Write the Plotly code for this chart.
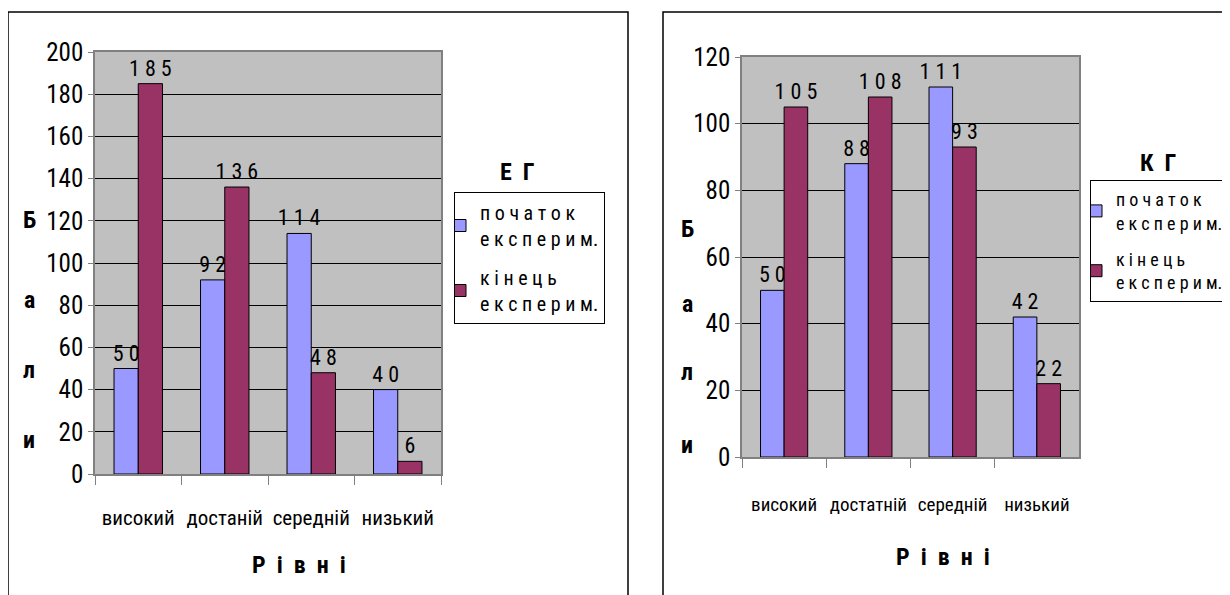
import plotly.graph_objects as go

# ---- data ----
cats_eg = ["високий", "достаній", "середній", "низький"]
cats_kg = ["високий", "достатній", "середній", "низький"]
eg_start = [50, 92, 114, 40]
eg_end = [185, 136, 48, 6]
kg_start = [50, 88, 111, 42]
kg_end = [105, 108, 93, 22]
name_start = "п о ч а т о к<br>е к с п е р и м."
name_end = "к і н е ц ь<br>е к с п е р и м."
title_eg = "Е\u00a0\u00a0Г"
title_kg = "К\u00a0\u00a0Г"
x_title = "Р\u00a0\u00a0і\u00a0\u00a0в\u00a0\u00a0н\u00a0\u00a0і"
y_title_letters = ["Б", "а", "л", "и"]

W, H = 1230, 595
OFF = 8  # page body margin of the browser
FONT = "Liberation Sans Narrow, Roboto Condensed, DejaVu Sans Condensed, Liberation Sans, sans-serif"
BLUE = "#9999FF"
RED = "#993366"
GRAY = "#C0C0C0"


def px(x):
    return (x - OFF) / W


def py(y):
    return 1 - (y - OFF) / H


def spaced(v):
    return " ".join(str(v))


fig = go.Figure()

series = [
    (cats_eg, eg_start, BLUE, name_start, "x", "y", "legend", "a"),
    (cats_eg, eg_end, RED, name_end, "x", "y", "legend", "b"),
    (cats_kg, kg_start, BLUE, name_start, "x2", "y2", "legend2", "c"),
    (cats_kg, kg_end, RED, name_end, "x2", "y2", "legend2", "d"),
]
for cats, vals, col, nm, xa, ya, lg, grp in series:
    fig.add_trace(go.Bar(
        x=cats, y=vals, name=nm, xaxis=xa, yaxis=ya, legend=lg,
        legendgroup=grp,
        marker=dict(color=col, line=dict(color="black", width=1)),
        text=[spaced(v) for v in vals], textposition="outside",
        constraintext="none",
        textfont=dict(family=FONT, size=22, color="black"),
        cliponaxis=False,
    ))

axis_common = dict(
    showline=True, linecolor="#808080", linewidth=1.5, mirror=True,
    automargin=False,
)

legend_common = dict(
    xanchor="left", yanchor="top", bgcolor="white", bordercolor="black",
    borderwidth=1, traceorder="grouped", tracegroupgap=10, indentation=-15,
)

fig.update_layout(
    width=W, height=H,
    margin=dict(l=0, r=0, t=0, b=0, autoexpand=False),
    paper_bgcolor="white", plot_bgcolor=GRAY,
    barmode="group", bargap=0.44, bargroupgap=0,
    xaxis=dict(domain=[px(95), px(441)], anchor="y", ticks="outside",
               tickson="boundaries", ticklen=9, tickcolor="#808080",
               tickangle=0, ticklabelstandoff=24,
               tickfont=dict(family=FONT, size=21, color="black"),
               **axis_common),
    yaxis=dict(domain=[py(474), py(52)], anchor="x", range=[0, 200], dtick=20,
               ticks="outside", ticklen=5, tickcolor="#808080",
               tickfont=dict(family=FONT, size=25, color="black"),
               showgrid=True, gridcolor="black", gridwidth=1, zeroline=False,
               **axis_common),
    xaxis2=dict(domain=[px(742), px(1079)], anchor="y2", ticks="outside",
                tickson="boundaries", ticklen=9, tickcolor="#808080",
                tickangle=0, ticklabelstandoff=29,
                tickfont=dict(family=FONT, size=19, color="black"),
                **axis_common),
    yaxis2=dict(domain=[py(457), py(57)], anchor="x2", range=[0, 120], dtick=20,
                ticks="outside", ticklen=5, tickcolor="#808080",
                tickfont=dict(family=FONT, size=25, color="black"),
                showgrid=True, gridcolor="black", gridwidth=1, zeroline=False,
                **axis_common),
    legend=dict(x=px(454), y=py(192),
                font=dict(family=FONT, size=20, color="black"), **legend_common),
    legend2=dict(x=px(1090), y=py(180),
                 font=dict(family=FONT, size=18, color="black"), **legend_common),
    showlegend=True,
)

# frames
fig.add_shape(type="rect", xref="paper", yref="paper",
              x0=px(8), x1=px(628), y0=py(640), y1=py(12),
              line=dict(color="black", width=1.5), layer="below")
fig.add_shape(type="rect", xref="paper", yref="paper",
              x0=px(663), x1=px(1280), y0=py(640), y1=py(12),
              line=dict(color="black", width=1.5), layer="below")

bold = dict(family=FONT, size=24, color="black")
ann = []
# legend titles
ann.append(dict(text="<b>" + title_eg + "</b>", x=px(517), y=py(172)))
ann.append(dict(text="<b>" + title_kg + "</b>", x=px(1158), y=py(163)))
# x titles
ann.append(dict(text="<b>" + x_title + "</b>", x=px(299), y=py(565)))
ann.append(dict(text="<b>" + x_title + "</b>", x=px(943), y=py(557)))
# y titles (stacked letters)
for letter, yl, yr in zip(y_title_letters, [220, 300, 370, 440], [229, 304, 372, 445]):
    ann.append(dict(text="<b>" + letter + "</b>", x=px(29), y=py(yl)))
    ann.append(dict(text="<b>" + letter + "</b>", x=px(687), y=py(yr)))
for a in ann:
    fig.add_annotation(xref="paper", yref="paper", showarrow=False,
                       xanchor="center", yanchor="middle", font=bold, **a)

fig.write_html("out.html")
